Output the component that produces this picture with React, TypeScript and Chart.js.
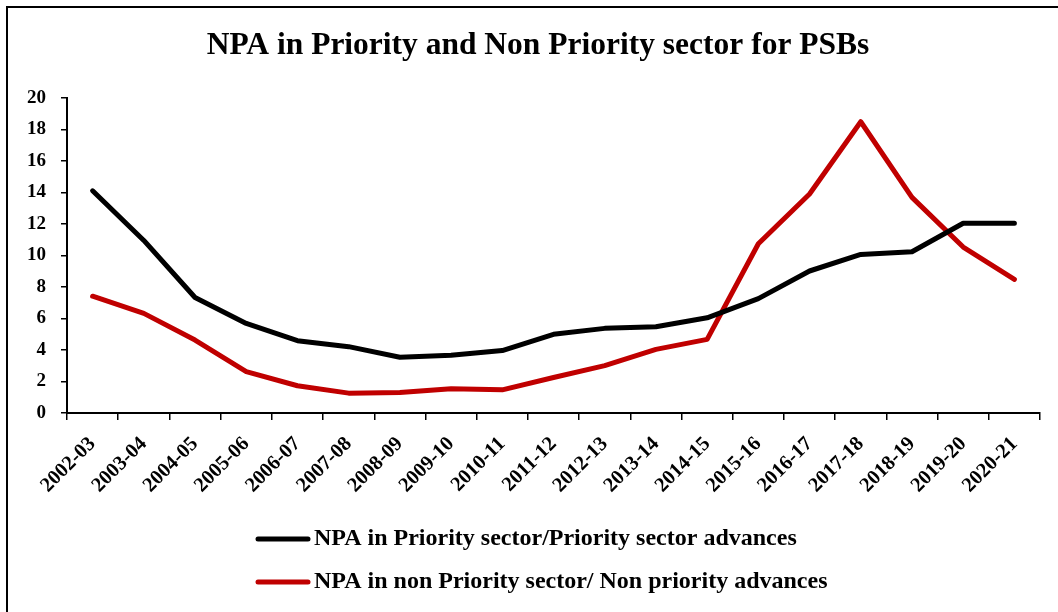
import React, { useEffect, useRef } from "react";
import { Chart, registerables } from "chart.js";

Chart.register(...registerables);

// ---------- data ----------
const categories = [
  "2002-03", "2003-04", "2004-05", "2005-06", "2006-07", "2007-08", "2008-09",
  "2009-10", "2010-11", "2011-12", "2012-13", "2013-14", "2014-15", "2015-16",
  "2016-17", "2017-18", "2018-19", "2019-20", "2020-21",
];
const priorityNPA = [
  14.1, 10.95, 7.33, 5.68, 4.59, 4.21, 3.54, 3.66, 3.96, 4.99,
  5.37, 5.47, 6.04, 7.26, 9.01, 10.06, 10.23, 12.04, 12.04,
];
const nonPriorityNPA = [
  7.41, 6.32, 4.63, 2.63, 1.73, 1.26, 1.3, 1.54, 1.47, 2.25,
  3.01, 4.04, 4.67, 10.74, 13.9, 18.48, 13.68, 10.53, 8.48,
];
const seriesLabels = [
  "NPA in Priority sector/Priority sector advances",
  "NPA in non Priority sector/ Non priority advances",
];
const seriesColors = ["#000000", "#C00000"];
const yMin = 0;
const yMax = 20;
const yStep = 2;
const titleText = "NPA in Priority and Non Priority sector for PSBs";

const FONT = "'Liberation Serif', 'Times New Roman', serif";

const stackedLegend = {
  id: "stackedLegend",
  afterLayout(chart: any, _args: any, opts: any) {
    // centre the title over the full figure (as in the reference)
    const t = chart.titleBlock;
    if (t) {
      t.left += opts.titleShift;
      t.right += opts.titleShift;
    }
  },
  afterDraw(chart: any, _args: any, opts: any) {
    const ctx = chart.ctx;
    chart.data.datasets.forEach((ds: any, i: number) => {
      const y = opts.top + i * opts.rowGap;
      ctx.save();
      ctx.strokeStyle = ds.borderColor;
      ctx.lineWidth = opts.lineWidth;
      ctx.lineCap = "round";
      ctx.beginPath();
      ctx.moveTo(opts.left, y);
      ctx.lineTo(opts.left + opts.sampleWidth, y);
      ctx.stroke();
      ctx.fillStyle = "#000";
      ctx.font = `bold ${opts.fontSize}px ${FONT}`;
      ctx.textBaseline = "middle";
      ctx.textAlign = "left";
      ctx.fillText(ds.label, opts.left + opts.sampleWidth + opts.gap, y);
      ctx.restore();
    });
  },
};

export default function App() {
  const canvasRef = useRef<HTMLCanvasElement | null>(null);

  useEffect(() => {
    document.body.style.margin = "0";
    const canvas = canvasRef.current;
    if (!canvas) return;
    const chart = new Chart(canvas, {
      type: "line",
      data: {
        labels: categories,
        datasets: [
          {
            label: seriesLabels[0],
            data: priorityNPA,
            borderColor: seriesColors[0],
            backgroundColor: seriesColors[0],
            borderWidth: 5,
            pointRadius: 0,
            tension: 0,
            borderCapStyle: "round",
            borderJoinStyle: "round",
          },
          {
            label: seriesLabels[1],
            data: nonPriorityNPA,
            borderColor: seriesColors[1],
            backgroundColor: seriesColors[1],
            borderWidth: 5,
            pointRadius: 0,
            tension: 0,
            borderCapStyle: "round",
            borderJoinStyle: "round",
          },
        ],
      },
      options: {
        responsive: false,
        animation: false,
        devicePixelRatio: 1,
        layout: { padding: { left: 22, right: 18, top: 0, bottom: 99 } },
        plugins: {
          legend: { display: false },
          tooltip: { enabled: false },
          title: {
            display: true,
            text: titleText,
            color: "#000",
            font: { family: FONT, size: 31.5, weight: "bold" },
            padding: { top: 27, bottom: 33 },
          },
          stackedLegend: {
            left: 258,
            sampleWidth: 50,
            gap: 6,
            top: 539,
            rowGap: 43,
            lineWidth: 5,
            fontSize: 24,
            titleShift: 7,
          },
        } as any,
        scales: {
          x: {
            type: "category",
            offset: true,
            afterFit: (scale: any) => {
              scale.height = 100;
            },
            grid: {
              display: true,
              offset: true,
              drawOnChartArea: false,
              drawTicks: true,
              tickLength: 7,
              color: "#000",
              lineWidth: 1.5,
            },
            border: { display: true, color: "#000", width: 2 },
            ticks: {
              autoSkip: false,
              minRotation: 45,
              maxRotation: 45,
              padding: 12,
              color: "#000",
              font: { family: FONT, size: 20.5, weight: "bold" },
            },
          },
          y: {
            min: yMin,
            max: yMax,
            afterFit: (scale: any) => {
              scale.width = 45;
            },
            grid: {
              display: true,
              drawOnChartArea: false,
              drawTicks: true,
              tickLength: 6,
              color: "#000",
              lineWidth: 1.5,
            },
            border: { display: true, color: "#000", width: 2 },
            ticks: {
              stepSize: yStep,
              padding: 15,
              color: "#000",
              font: { family: FONT, size: 19, weight: "bold" },
            },
          },
        },
      } as any,
      plugins: [stackedLegend as any],
    });
    return () => chart.destroy();
  }, []);

  return (
    <div
      style={{
        position: "fixed",
        left: 0,
        top: 0,
        width: 1058,
        height: 612,
        overflow: "hidden",
        background: "#fff",
      }}
    >
      <div
        style={{
          position: "absolute",
          left: 6,
          top: 6,
          width: 1200,
          height: 800,
          borderLeft: "2px solid #000",
          borderTop: "2px solid #000",
        }}
      />
      <canvas
        ref={canvasRef}
        width={1058}
        height={612}
        style={{ position: "absolute", left: 0, top: 0, width: 1058, height: 612 }}
      />
    </div>
  );
}
